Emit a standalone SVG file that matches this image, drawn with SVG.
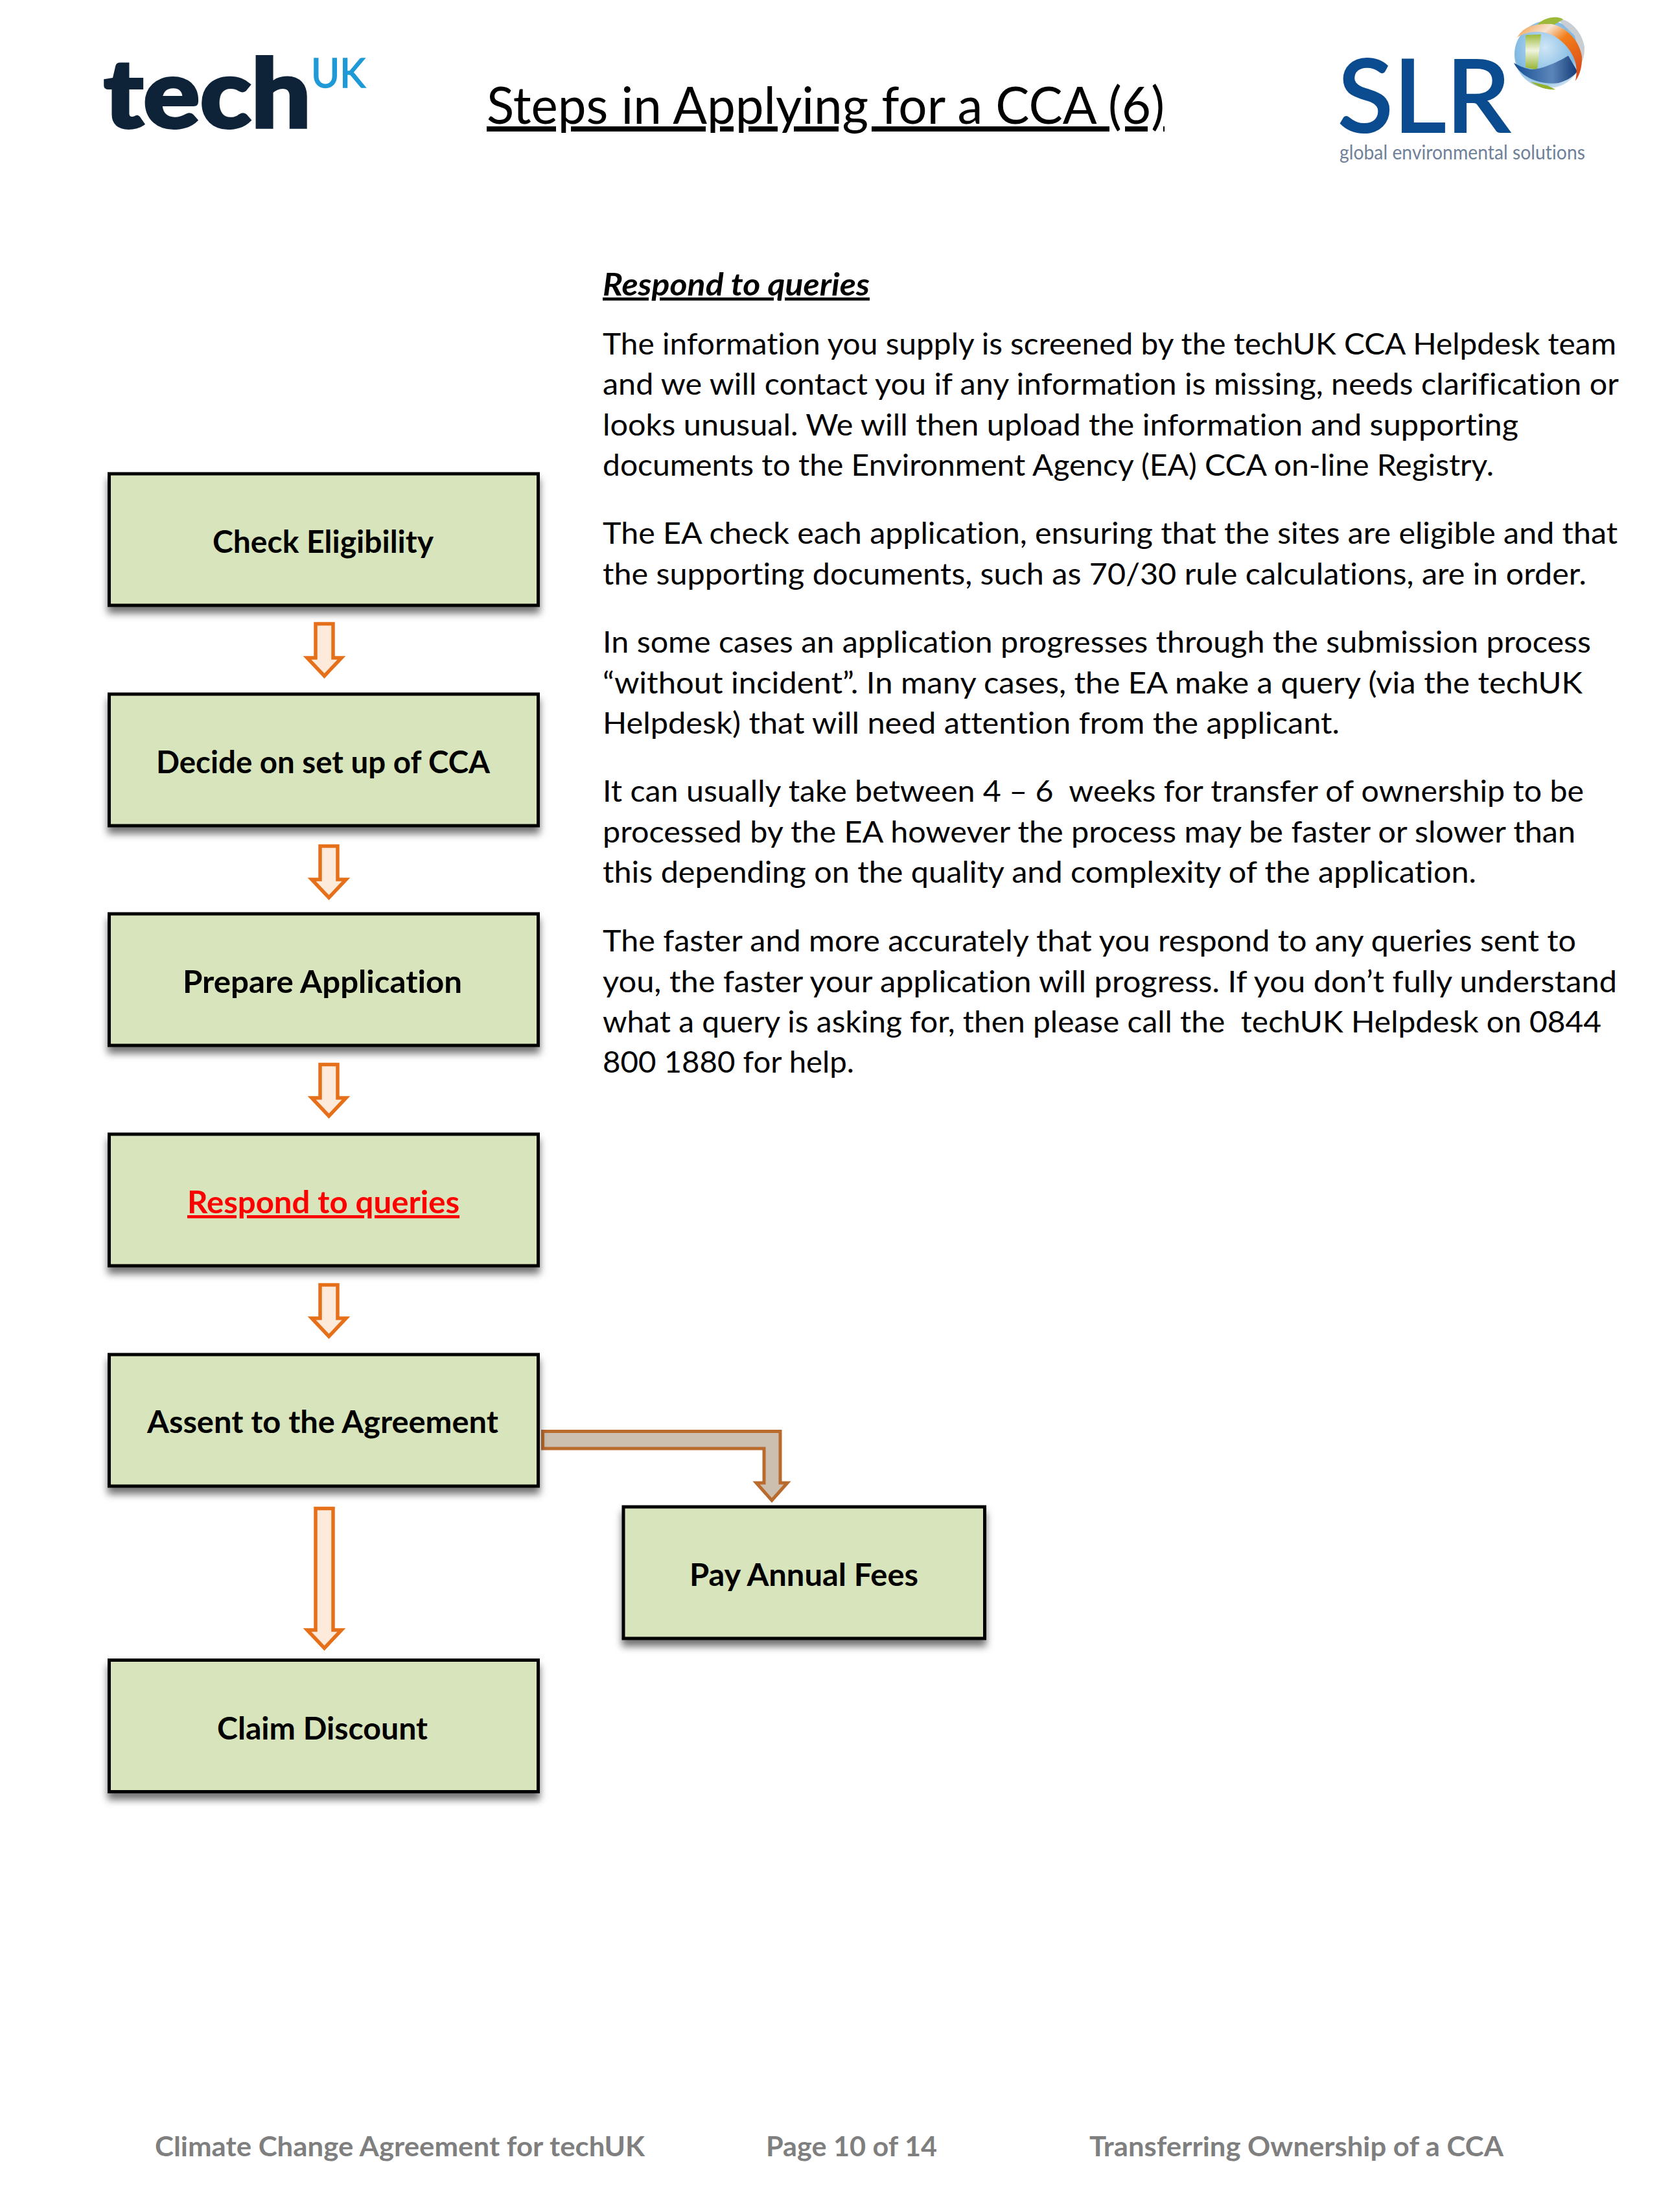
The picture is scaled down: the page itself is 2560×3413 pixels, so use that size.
<svg xmlns="http://www.w3.org/2000/svg" width="2560" height="3413" viewBox="0 0 2560 3413">
<style>
text{font-family:"Lato","Noto Sans","Liberation Sans",sans-serif;white-space:pre;font-variant-ligatures:none;text-decoration-skip-ink:none}
.box{fill:#d8e4bc;stroke:#000;stroke-width:5;filter:url(#sh)}
.lbl{font-size:47px;font-weight:700;fill:#000}
.body{font-size:47px;fill:#000}
.foot{font-size:42px;font-weight:700;fill:#7f7f7f}
.arrow{fill:#fdeadb;stroke:#e6701a;stroke-width:5.5;stroke-linejoin:miter}
</style>
<defs>
<filter id="sh" x="-5%" y="-5%" width="110%" height="130%"><feDropShadow dx="0" dy="10" stdDeviation="6" flood-color="#000" flood-opacity="0.55"/></filter>
<radialGradient id="sph" cx="45%" cy="40%" r="65%"><stop offset="0" stop-color="#cfe6f6"/><stop offset="0.7" stop-color="#7fb8e2"/><stop offset="1" stop-color="#dde9f2"/></radialGradient>
<linearGradient id="org" x1="0" y1="0" x2="1" y2="1"><stop offset="0" stop-color="#f5963a"/><stop offset="0.28" stop-color="#f6e4d2"/><stop offset="0.48" stop-color="#f37f1a"/><stop offset="1" stop-color="#d4421a"/></linearGradient>
<linearGradient id="blu" x1="0" y1="0" x2="1" y2="0"><stop offset="0" stop-color="#164f94"/><stop offset="0.6" stop-color="#5c86ba"/><stop offset="1" stop-color="#123a76"/></linearGradient>
<linearGradient id="grn" x1="0" y1="0" x2="0" y2="1"><stop offset="0" stop-color="#9cb93a"/><stop offset="0.45" stop-color="#f0f4e0"/><stop offset="1" stop-color="#94b22e"/></linearGradient>
</defs>

<g id="logo-techuk">
<text x="160" y="197" font-size="146" font-weight="900" fill="#0e2238" stroke="#0e2238" stroke-width="4" textLength="320" lengthAdjust="spacingAndGlyphs">tech</text>
<text x="480" y="135" font-size="62" font-weight="400" fill="#1f9ad6" stroke="#1f9ad6" stroke-width="1.5" textLength="84" lengthAdjust="spacingAndGlyphs">UK</text>
</g>

<g id="logo-slr">
<text x="2064" y="204" font-size="156" font-weight="500" fill="#0b4b8f" stroke="#0b4b8f" stroke-width="2" textLength="267" lengthAdjust="spacingAndGlyphs">SLR</text>
<text x="2067" y="246" font-size="31" fill="#6f8199" textLength="379" lengthAdjust="spacingAndGlyphs">global environmental solutions</text>
<ellipse cx="2389" cy="84" rx="52" ry="52" fill="url(#sph)"/>
<path d="M2400,27C2425,30 2441,50 2445,72C2445,85 2443,92 2441,95L2430,55Z" fill="#c8ced4"/>
<path d="M2372,38C2385,25 2405,24 2412,30L2395,40Z" fill="#9cb93a"/>
<path d="M2354,54L2378,53L2372,108L2354,104Z" fill="url(#grn)"/>
<path d="M2336,97C2346,118 2375,132 2405,128C2420,124 2430,116 2434,110L2420,86C2400,98 2375,108 2362,107C2350,105 2342,100 2336,97Z" fill="url(#blu)"/>
<path d="M2362,126C2375,136 2390,139 2400,138L2388,132Z" fill="#94b22e"/>
<path d="M2341,58C2350,42 2365,36 2394,37C2420,42 2438,66 2441,87C2442,105 2436,118 2431,125C2434,110 2433,100 2428,88C2420,70 2400,52 2382,50C2365,47 2350,52 2341,58Z" fill="url(#org)"/>
</g>

<g id="title">
<text x="751" y="191" font-size="79" fill="#000" text-decoration="underline" textLength="1046" lengthAdjust="spacingAndGlyphs">Steps in Applying for a CCA (6)</text>
</g>

<g id="description">
<text x="930" y="456" font-size="47" font-weight="700" font-style="italic" fill="#000" text-decoration="underline" textLength="412" lengthAdjust="spacingAndGlyphs">Respond to queries</text>
<text class="body" x="930" y="547" textLength="1564" lengthAdjust="spacingAndGlyphs">The information you supply is screened by the techUK CCA Helpdesk team</text>
<text class="body" x="930" y="609" textLength="1568" lengthAdjust="spacingAndGlyphs">and we will contact you if any information is missing, needs clarification or</text>
<text class="body" x="930" y="672" textLength="1413" lengthAdjust="spacingAndGlyphs">looks unusual. We will then upload the information and supporting</text>
<text class="body" x="930" y="734" textLength="1375" lengthAdjust="spacingAndGlyphs">documents to the Environment Agency (EA) CCA on-line Registry.</text>
<text class="body" x="930" y="839" textLength="1566" lengthAdjust="spacingAndGlyphs">The EA check each application, ensuring that the sites are eligible and that</text>
<text class="body" x="930" y="902" textLength="1518" lengthAdjust="spacingAndGlyphs">the supporting documents, such as 70/30 rule calculations, are in order.</text>
<text class="body" x="930" y="1007" textLength="1525" lengthAdjust="spacingAndGlyphs">In some cases an application progresses through the submission process</text>
<text class="body" x="930" y="1070" textLength="1512" lengthAdjust="spacingAndGlyphs">“without incident”. In many cases, the EA make a query (via the techUK</text>
<text class="body" x="930" y="1132" textLength="1137" lengthAdjust="spacingAndGlyphs">Helpdesk) that will need attention from the applicant.</text>
<text class="body" x="930" y="1237" textLength="1514" lengthAdjust="spacingAndGlyphs">It can usually take between 4 – 6  weeks for transfer of ownership to be</text>
<text class="body" x="930" y="1300" textLength="1501" lengthAdjust="spacingAndGlyphs">processed by the EA however the process may be faster or slower than</text>
<text class="body" x="930" y="1362" textLength="1348" lengthAdjust="spacingAndGlyphs">this depending on the quality and complexity of the application.</text>
<text class="body" x="930" y="1468" textLength="1502" lengthAdjust="spacingAndGlyphs">The faster and more accurately that you respond to any queries sent to</text>
<text class="body" x="930" y="1531" textLength="1565" lengthAdjust="spacingAndGlyphs">you, the faster your application will progress. If you don’t fully understand</text>
<text class="body" x="930" y="1593" textLength="1541" lengthAdjust="spacingAndGlyphs">what a query is asking for, then please call the  techUK Helpdesk on 0844</text>
<text class="body" x="930" y="1655" textLength="388" lengthAdjust="spacingAndGlyphs">800 1880 for help.</text>
</g>

<g id="connectors">
<path class="arrow" d="M487,962.5H514V1015H527L500.5,1043L474,1015H487Z"/>
<path class="arrow" d="M494,1305.5H521V1357H534L507.5,1385L481,1357H494Z"/>
<path class="arrow" d="M494,1642.5H521V1694H534L507.5,1722L481,1694H494Z"/>
<path class="arrow" d="M494,1982.5H521V2034H534L507.5,2062L481,2034H494Z"/>
<path class="arrow" d="M487,2327.5H514V2515H527L500.5,2543L474,2515H487Z"/>
<path d="M837.5,2208.5H1204V2288H1215L1191,2315L1167,2288H1179V2235H837.5Z" fill="#cdbfb0" stroke="#b96b2e" stroke-width="5"/>
</g>

<g id="node-check-eligibility"><rect class="box" x="168.5" y="731" width="662" height="203"/><text class="lbl" x="328" y="853" textLength="341" lengthAdjust="spacingAndGlyphs">Check Eligibility</text></g>
<g id="node-decide"><rect class="box" x="168.5" y="1071" width="662" height="203"/><text class="lbl" x="241" y="1193" textLength="515" lengthAdjust="spacingAndGlyphs">Decide on set up of CCA</text></g>
<g id="node-prepare"><rect class="box" x="168.5" y="1410" width="662" height="203"/><text class="lbl" x="282" y="1532" textLength="431" lengthAdjust="spacingAndGlyphs">Prepare Application</text></g>
<g id="node-respond"><rect class="box" x="168.5" y="1750" width="662" height="203"/><text class="lbl" x="289" y="1872" style="fill:#ff0000" text-decoration="underline" textLength="420" lengthAdjust="spacingAndGlyphs">Respond to queries</text></g>
<g id="node-assent"><rect class="box" x="168.5" y="2090" width="662" height="203"/><text class="lbl" x="227" y="2211" textLength="542" lengthAdjust="spacingAndGlyphs">Assent to the Agreement</text></g>
<g id="node-claim"><rect class="box" x="168.5" y="2561.5" width="662" height="203"/><text class="lbl" x="335" y="2684" textLength="325" lengthAdjust="spacingAndGlyphs">Claim Discount</text></g>
<g id="node-pay"><rect class="box" x="962" y="2325" width="557.5" height="203"/><text class="lbl" x="1064" y="2447" textLength="353" lengthAdjust="spacingAndGlyphs">Pay Annual Fees</text></g>

<g id="footer">
<text class="foot" x="239" y="3327" textLength="756" lengthAdjust="spacingAndGlyphs">Climate Change Agreement for techUK</text>
<text class="foot" x="1182" y="3327" textLength="264" lengthAdjust="spacingAndGlyphs">Page 10 of 14</text>
<text class="foot" x="1681" y="3327" textLength="639" lengthAdjust="spacingAndGlyphs">Transferring Ownership of a CCA</text>
</g>
</svg>
